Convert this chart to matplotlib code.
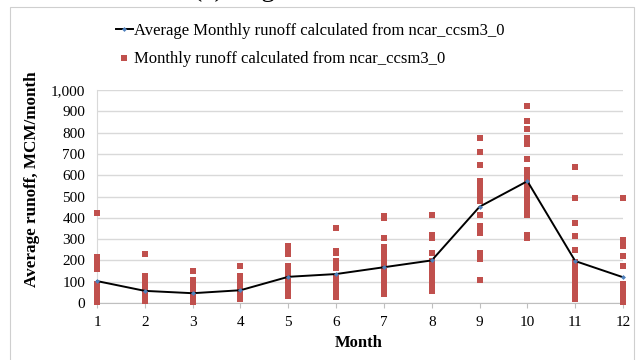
import matplotlib
matplotlib.use('Agg')
import matplotlib.pyplot as plt
from matplotlib.lines import Line2D
from matplotlib.patches import Rectangle

plt.rcParams['font.family'] = ['Liberation Serif', 'DejaVu Serif']

# monthly runoff values (MCM/month)
months = list(range(1, 13))
m1 = [424, 217, 200, 185, 170, 158, 89, 78, 66, 55, 44, 33, 22, 12, 5]
m2 = [230, 128, 115, 102, 90, 78, 66, 54, 42, 30, 18, 8]
m3 = [152, 108, 95, 82, 70, 58, 46, 34, 22, 10, 4]
m4 = [174, 128, 115, 102, 90, 78, 66, 54, 42, 30, 18]
m5 = [269, 255, 242, 230, 175, 160, 145, 130, 115, 100, 88, 75, 62, 48, 33]
m6 = [350, 245, 237, 199, 183, 166, 121, 105, 90, 75, 60, 45, 30]
m7 = [410, 398, 305, 261, 245, 228, 212, 196, 180, 164, 148, 132, 116, 100, 85, 70, 55, 41]
m8 = [413, 318, 305, 235, 196, 180, 164, 148, 132, 116, 100, 85, 70, 56]
m9 = [775, 709, 648, 574, 558, 542, 526, 510, 494, 479, 413, 363, 347, 330, 233, 220, 208, 108]
m10 = [925, 854, 815, 775, 760, 746, 675, 623, 607, 591, 575, 559, 543, 527, 511, 495,
       479, 463, 447, 430, 413, 320, 305]
m11 = [640, 491, 377, 315, 249, 192, 176, 160, 144, 128, 112, 96, 80, 64, 48, 33, 20]
m12 = [494, 296, 268, 221, 174, 89, 75, 61, 47, 33, 19, 5]
monthly = [m1, m2, m3, m4, m5, m6, m7, m8, m9, m10, m11, m12]

avg_runoff = [103, 57, 46, 60, 123, 136, 168, 200, 452, 572, 197, 121]

fig = plt.figure(figsize=(6.39, 3.6), dpi=100)
ax = fig.add_axes([0.1518, 0.1583, 0.8232, 0.5917])

# scatter of every monthly value
xs, ys = [], []
for m, vals in zip(months, monthly):
    xs += [m] * len(vals)
    ys += vals
ax.plot(xs, ys, 's', color='#C0504D', markersize=4.6, markeredgewidth=0,
        clip_on=False, zorder=3)

# average line
ax.plot(months, avg_runoff, '-', color='black', lw=1.4, zorder=4, clip_on=False)
ax.plot(months, avg_runoff, 'D', color='#4F81BD', markersize=2.5, markeredgewidth=0,
        zorder=5, clip_on=False)

ax.set_xlim(1, 12)
ax.set_ylim(0, 1000)
ax.set_xticks(months)
ax.set_yticks(range(0, 1001, 100))
ax.set_yticklabels([f'{v:,}' for v in range(0, 1001, 100)])
ax.grid(axis='y', color='#D9D9D9', lw=1)
ax.set_axisbelow(True)
for s in ['top', 'right']:
    ax.spines[s].set_visible(False)
ax.spines['left'].set_color('#D9D9D9')
ax.spines['bottom'].set_color('#BFBFBF')
ax.tick_params(axis='y', length=0, pad=8.5, labelsize=11)
ax.tick_params(axis='x', length=3.5, color='#BFBFBF', pad=6, labelsize=11)

ax.set_ylabel('Average runoff, MCM/month', fontsize=12.3, fontweight='bold')
ax.yaxis.set_label_coords(-0.108, 0.58)
ax.set_xlabel('Month', fontsize=12, fontweight='bold')
ax.xaxis.set_label_coords(0.498, -0.150)

h1 = Line2D([], [], color='black', lw=1.4, marker='D', markerfacecolor='#4F81BD',
            markeredgewidth=0, markersize=2.5)
h2 = Line2D([], [], ls='none', marker='s', color='#C0504D', markersize=4.6,
            markeredgewidth=0)
fig.legend([h1, h2], ['Average Monthly runoff calculated from ncar_ccsm3_0',
                      'Monthly runoff calculated from ncar_ccsm3_0'],
           loc='upper left', bbox_to_anchor=(0.158, 0.977), frameon=False,
           fontsize=12, handlelength=1.0, handletextpad=0.1, labelspacing=0.73,
           borderpad=0.4)

# outer chart border and the clipped heading above it
fig.patches.append(Rectangle((10 / 639, -0.01), 624 / 639, 1 - 7 / 360 + 0.01,
                             transform=fig.transFigure, fill=False,
                             edgecolor='#CFCFCF', lw=0.8))
fig.text(0.302, 1 + 4 / 360, '(c) Avg_', fontsize=20, va='baseline')

fig.savefig('out.png', dpi=100)
